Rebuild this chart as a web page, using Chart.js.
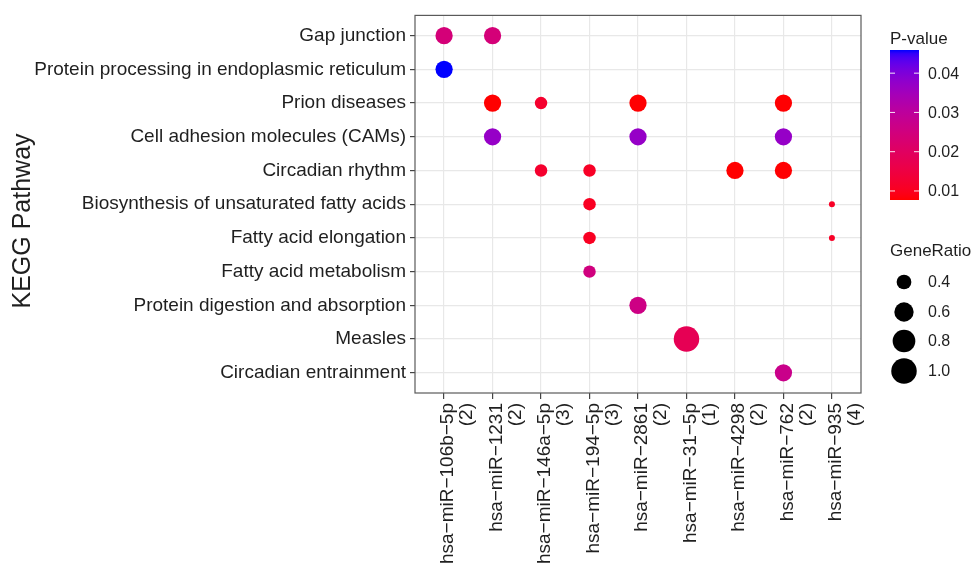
<!DOCTYPE html>
<html>
<head>
<meta charset="utf-8">
<script src="https://cdn.jsdelivr.net/npm/chart.js@4.4.1/dist/chart.umd.min.js"></script>
<style>
  html, body { margin: 0; padding: 0; background: #ffffff; overflow: hidden; }
  canvas { display: block; }
</style>
</head>
<body>
<canvas id="chart" width="979" height="564"></canvas>
<script>
// miRNAs along the x axis, with the number of target genes of each
const mirnas = [
  'hsa\u2212miR\u2212106b\u22125p', 'hsa\u2212miR\u22121231', 'hsa\u2212miR\u2212146a\u22125p',
  'hsa\u2212miR\u2212194\u22125p', 'hsa\u2212miR\u22122861', 'hsa\u2212miR\u221231\u22125p',
  'hsa\u2212miR\u22124298', 'hsa\u2212miR\u2212762', 'hsa\u2212miR\u2212935'
];
const mirnaGeneCounts = [2, 2, 3, 3, 2, 1, 2, 2, 4];

// KEGG pathways along the y axis, top to bottom
const pathways = [
  'Gap junction',
  'Protein processing in endoplasmic reticulum',
  'Prion diseases',
  'Cell adhesion molecules (CAMs)',
  'Circadian rhythm',
  'Biosynthesis of unsaturated fatty acids',
  'Fatty acid elongation',
  'Fatty acid metabolism',
  'Protein digestion and absorption',
  'Measles',
  'Circadian entrainment'
];

// one entry per dot: miRNA index, pathway index, gene ratio, p-value
const dotMirna     = [0, 1, 0, 1, 2, 4, 7, 1, 4, 7, 2, 3, 6, 7, 3, 8, 3, 8, 3, 4, 5, 7];
const dotPathway   = [0, 0, 1, 2, 2, 2, 2, 3, 3, 3, 4, 4, 4, 4, 5, 5, 6, 6, 7, 8, 9, 10];
const dotGeneRatio = [0.5, 0.5, 0.5, 0.5, 0.333, 0.5, 0.5, 0.5, 0.5, 0.5, 0.333, 0.333, 0.5, 0.5,
                      0.333, 0.25, 0.333, 0.25, 0.333, 0.5, 1.0, 0.5];
const dotPValue    = [0.024, 0.024, 0.0459, 0.0077, 0.012, 0.0078, 0.0078, 0.037, 0.037, 0.037,
                      0.012, 0.011, 0.0077, 0.0078, 0.0105, 0.011, 0.0105, 0.011, 0.025, 0.026, 0.018, 0.027];

// legend breaks
const pValueBreaks = [0.01, 0.02, 0.03, 0.04];
const geneRatioBreaks = [0.4, 0.6, 0.8, 1.0];

const FONT = '"Liberation Sans", Arial, Helvetica, sans-serif';
const TEXT = '#1f1f1f';

// ---- colour scale: red (low p) to blue (high p), interpolated in CIELAB ----
function srgbToLab(r, g, b) {
  const lin = c => { c /= 255; return c <= 0.04045 ? c / 12.92 : Math.pow((c + 0.055) / 1.055, 2.4); };
  const R = lin(r), G = lin(g), B = lin(b);
  const X = (0.4124 * R + 0.3576 * G + 0.1805 * B) / 0.95047;
  const Y = (0.2126 * R + 0.7152 * G + 0.0722 * B);
  const Z = (0.0193 * R + 0.1192 * G + 0.9505 * B) / 1.08883;
  const f = t => t > 0.008856 ? Math.cbrt(t) : 7.787 * t + 16 / 116;
  const fx = f(X), fy = f(Y), fz = f(Z);
  return [116 * fy - 16, 500 * (fx - fy), 200 * (fy - fz)];
}
function labToRgb(L, a, b) {
  const fy = (L + 16) / 116, fx = fy + a / 500, fz = fy - b / 200;
  const inv = t => t * t * t > 0.008856 ? t * t * t : (t - 16 / 116) / 7.787;
  const X = inv(fx) * 0.95047, Y = inv(fy), Z = inv(fz) * 1.08883;
  let R = 3.2406 * X - 1.5372 * Y - 0.4986 * Z;
  let G = -0.9689 * X + 1.8758 * Y + 0.0415 * Z;
  let B = 0.0557 * X - 0.2040 * Y + 1.0570 * Z;
  const gam = c => {
    c = c <= 0.0031308 ? 12.92 * c : 1.055 * Math.pow(c, 1 / 2.4) - 0.055;
    return Math.round(Math.min(1, Math.max(0, c)) * 255);
  };
  return `rgb(${gam(R)},${gam(G)},${gam(B)})`;
}
const LAB_LOW = srgbToLab(255, 0, 0);
const LAB_HIGH = srgbToLab(0, 0, 255);
const pMin = Math.min(...dotPValue);
const pMax = Math.max(...dotPValue);
function pColor(p) {
  const t = Math.min(1, Math.max(0, (p - pMin) / (pMax - pMin)));
  return labToRgb(
    LAB_LOW[0] + (LAB_HIGH[0] - LAB_LOW[0]) * t,
    LAB_LOW[1] + (LAB_HIGH[1] - LAB_LOW[1]) * t,
    LAB_LOW[2] + (LAB_HIGH[2] - LAB_LOW[2]) * t
  );
}

// ---- size scale: area-proportional radius over the observed gene ratio range ----
const gMin = Math.min(...dotGeneRatio);
const gMax = Math.max(...dotGeneRatio);
function ratioRadius(g) {
  const t = Math.max(0, (g - gMin) / (gMax - gMin));
  const size = 1 + 5 * Math.sqrt(t);
  return (3.9 * size + 2.1) / 2;
}

const points = dotMirna.map((m, i) => ({ x: m, y: dotPathway[i], r: ratioRadius(dotGeneRatio[i]) }));
const pointColors = dotPValue.map(pColor);

// panel border drawn on top of the grid
const panelBorder = {
  id: 'panelBorder',
  afterDatasetsDraw(chart) {
    const { ctx, chartArea: a } = chart;
    ctx.save();
    ctx.strokeStyle = '#5a5a5a';
    ctx.lineWidth = 1.2;
    ctx.strokeRect(a.left, a.top, a.right - a.left, a.bottom - a.top);
    ctx.restore();
  }
};

// y axis title and the two legends (colour bar and size key)
const sideAnnotations = {
  id: 'sideAnnotations',
  afterDraw(chart) {
    const ctx = chart.ctx;
    ctx.save();

    // axis title
    ctx.fillStyle = TEXT;
    ctx.font = `25px ${FONT}`;
    ctx.textAlign = 'center';
    ctx.textBaseline = 'middle';
    ctx.translate(23, 221);
    ctx.rotate(-Math.PI / 2);
    ctx.fillText('KEGG Pathway', 0, 0);
    ctx.setTransform(1, 0, 0, 1, 0, 0);

    // colour bar
    const barX = 890, barW = 29, barTop = 50, barBottom = 200;
    const grad = ctx.createLinearGradient(0, barTop, 0, barBottom);
    for (let k = 0; k <= 40; k++) {
      const p = pMax - (pMax - pMin) * k / 40;
      grad.addColorStop(k / 40, pColor(p));
    }
    ctx.fillStyle = grad;
    ctx.fillRect(barX, barTop, barW, barBottom - barTop);

    ctx.font = `17px ${FONT}`;
    ctx.textAlign = 'left';
    ctx.textBaseline = 'alphabetic';
    ctx.fillStyle = TEXT;
    ctx.fillText('P-value', 890, 44);

    ctx.font = `16px ${FONT}`;
    ctx.textBaseline = 'middle';
    pValueBreaks.forEach(p => {
      const y = barBottom - (p - pMin) / (pMax - pMin) * (barBottom - barTop);
      ctx.strokeStyle = 'rgba(255,255,255,0.9)';
      ctx.lineWidth = 1;
      ctx.beginPath();
      ctx.moveTo(barX, y); ctx.lineTo(barX + 5, y);
      ctx.moveTo(barX + barW - 5, y); ctx.lineTo(barX + barW, y);
      ctx.stroke();
      ctx.fillStyle = TEXT;
      ctx.fillText(p.toFixed(2), 928, y + 1);
    });

    // size key
    ctx.font = `17px ${FONT}`;
    ctx.textBaseline = 'alphabetic';
    ctx.fillText('GeneRatio', 890, 256);
    ctx.font = `16px ${FONT}`;
    ctx.textBaseline = 'middle';
    const keyY = [282, 312, 341, 371];
    geneRatioBreaks.forEach((g, i) => {
      ctx.fillStyle = '#000000';
      ctx.beginPath();
      ctx.arc(904, keyY[i], ratioRadius(g), 0, Math.PI * 2);
      ctx.fill();
      ctx.fillStyle = TEXT;
      ctx.fillText(g.toFixed(1), 928, keyY[i] + 1);
    });

    ctx.restore();
  }
};

new Chart(document.getElementById('chart'), {
  type: 'bubble',
  data: {
    datasets: [{
      data: points,
      backgroundColor: pointColors,
      borderWidth: 0,
      hoverBorderWidth: 0,
      hoverRadius: 0
    }]
  },
  options: {
    responsive: false,
    animation: false,
    devicePixelRatio: 1,
    events: [],
    layout: { padding: { top: 13, right: 118, left: 0, bottom: 0 } },
    plugins: { legend: { display: false }, tooltip: { enabled: false } },
    scales: {
      x: {
        type: 'linear',
        min: -0.6,
        max: mirnas.length - 1 + 0.6,
        afterBuildTicks: s => { s.ticks = mirnas.map((_, i) => ({ value: i })); },
        afterFit: s => { s.height = 171; },
        ticks: {
          autoSkip: false,
          minRotation: 90,
          maxRotation: 90,
          padding: 4,
          labelOffset: 4,
          color: TEXT,
          font: { family: FONT, size: 19, lineHeight: 1.0 },
          callback: v => [mirnas[v], '(' + mirnaGeneCounts[v] + ')']
        },
        grid: { color: '#e8e8e8', lineWidth: 1.2, tickColor: '#444444', tickLength: 6 },
        border: { display: false }
      },
      y: {
        type: 'linear',
        reverse: true,
        min: -0.6,
        max: pathways.length - 1 + 0.6,
        afterBuildTicks: s => { s.ticks = pathways.map((_, i) => ({ value: i })); },
        afterFit: s => { s.width = 415; },
        ticks: {
          autoSkip: false,
          padding: 4,
          color: TEXT,
          font: { family: FONT, size: 19 },
          callback: v => pathways[v]
        },
        grid: { color: '#e8e8e8', lineWidth: 1.2, tickColor: '#444444', tickLength: 5 },
        border: { display: false }
      }
    }
  },
  plugins: [panelBorder, sideAnnotations]
});
</script>
</body>
</html>
